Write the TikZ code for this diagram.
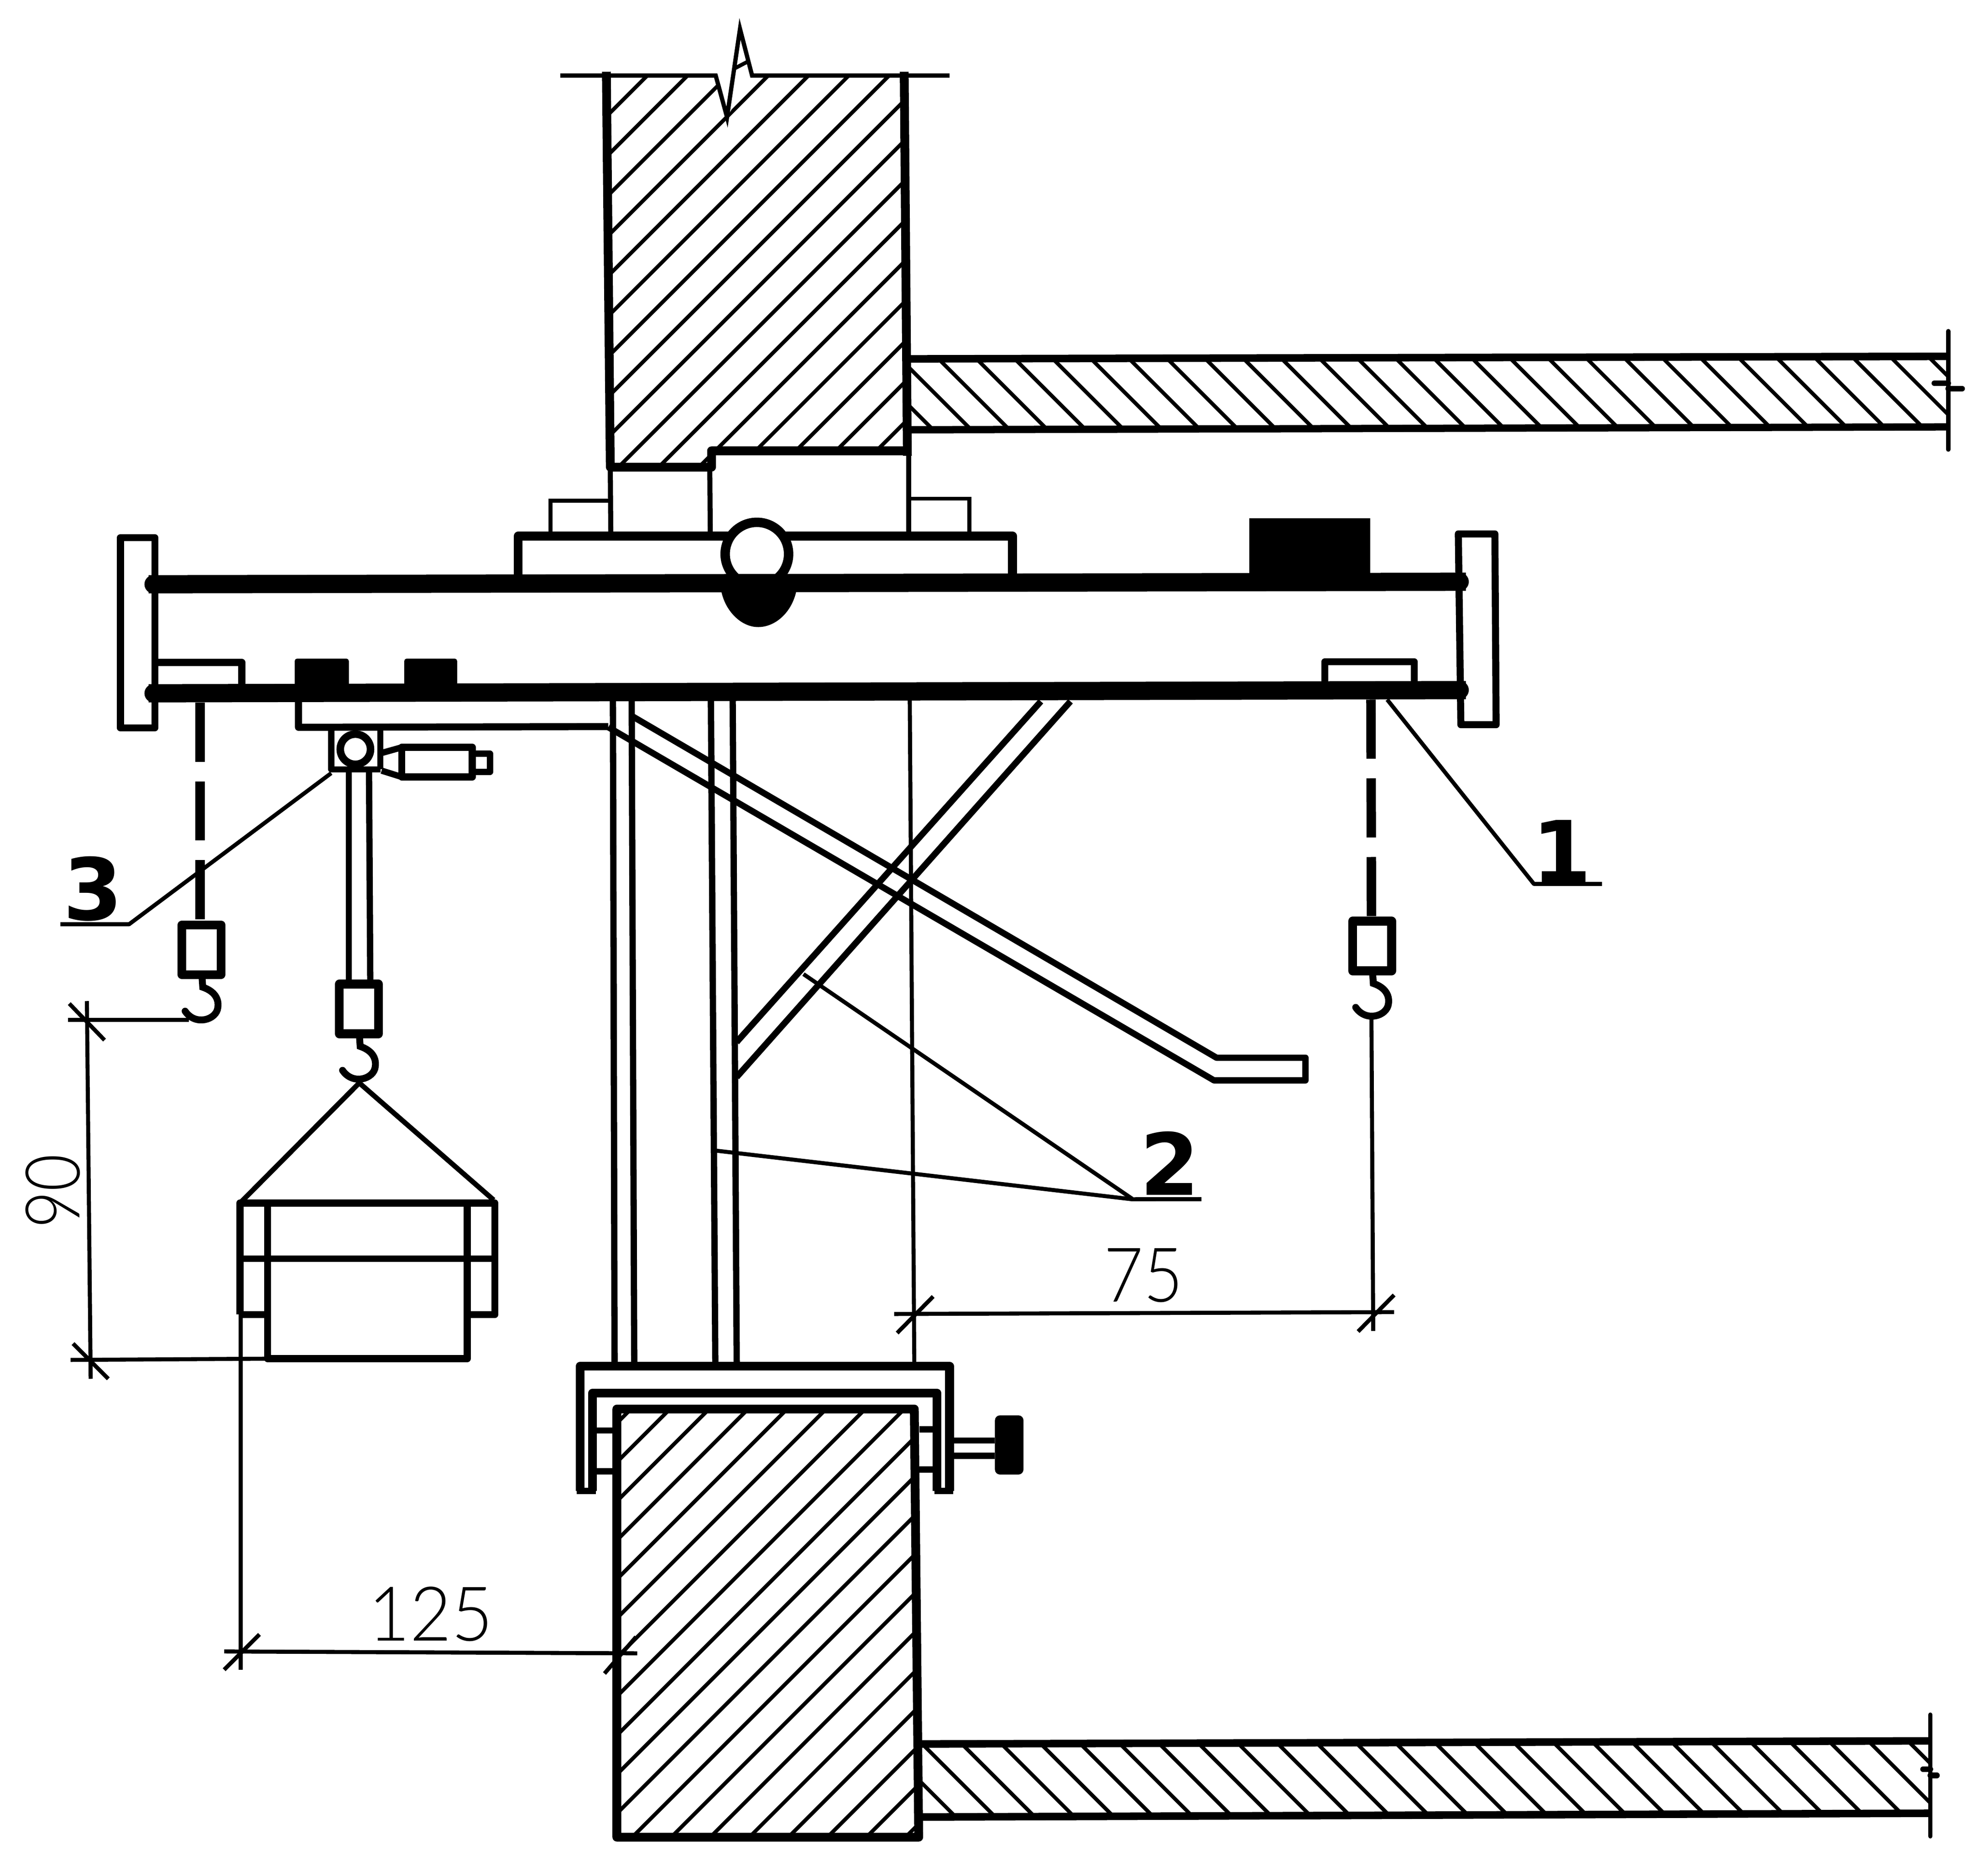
\documentclass[tikz,border=0pt]{standalone}
\usepackage{fontspec}
\newfontfamily\dimfont{Lato Light}
\newfontfamily\markfont{DejaVu Sans}
\tikzset{
  thinline/.style={black,line width=3.2pt},
  rodline/.style={black,line width=5pt,line join=round},
  plateline/.style={black,line width=5.6pt,line join=round},
  wallline/.style={black,line width=7pt,line join=round},
  beamline/.style={black,line width=14.5pt},
  hatchline/.style={black,line width=3pt},
  dashrod/.style={black,line width=7.5pt,dash pattern=on 47pt off 15.5pt},
  dimlabel/.style={inner sep=0pt,transform shape,font=\dimfont\fontsize{60}{60}\selectfont},
  marklabel/.style={inner sep=0pt,font=\markfont\bfseries\fontsize{68}{68}\selectfont},
  hoist/.pic={
    \draw [black,line width=7pt,line join=round] (-15.5,-42.5) rectangle (15.5,-3);
    \draw [black,line width=5.5pt,line cap=round] (0.5,0) -- (1,7) .. controls (10,10) and (14,16) .. (13,23) .. controls (12,33) and (-5,38) .. (-13,26);
  }
}

\begin{document}
\begin{tikzpicture}[x=1pt,y=-1pt]
\useasboundingbox (0,0) rectangle (1570.65,1489.5);
\begin{scope}
\clip (481.5,60) -- (568.3,60) -- (577.3,93) -- (597.2,60) -- (718,60) -- (720.5,358) -- (565,358) -- (565,371) -- (484.6,371) -- cycle;
\foreach \c in {542,574,...,1100} \draw [hatchline] (\c-50,50) -- (\c-400,400);
\end{scope}
\begin{scope}
\clip (722,285) -- (1547,283) -- (1547,339) -- (722,341) -- cycle;
\foreach \c in {1248,1217.7,...,350} \draw [hatchline] (\c+250,250) -- (\c+370,370);
\end{scope}
\begin{scope}
\clip (489.8,1119) -- (726,1119) -- (729.5,1459) -- (490,1459) -- cycle;
\foreach \c in {1620,1651,...,2200} \draw [hatchline] (\c-1100,1100) -- (\c-1480,1480);
\end{scope}
\begin{scope}
\clip (730,1385) -- (1533,1382) -- (1533,1440) -- (730,1443) -- cycle;
\foreach \c in {-56,-87.4,...,-720} \draw [hatchline] (\c+1370,1370) -- (\c+1450,1450);
\foreach \c in {-24.6,6.8,...,160} \draw [hatchline] (\c+1370,1370) -- (\c+1450,1450);
\end{scope}
\draw [black,line width=3.4pt] (445,60) -- (568.3,60) -- (577.3,93) -- (587.6,23) -- (597.2,60) -- (754,60);
\draw [black,line width=3pt] (583.4,54.3) -- (593.6,49);
\draw [wallline] (481.5,57) -- (484.6,371) -- (565,371) -- (565,358) -- (720.5,358);
\draw [wallline] (718,57) -- (720.5,362);
\draw [thinline,line width=4pt] (484.6,371) -- (485,425);
\draw [thinline,line width=4pt] (563.6,371) -- (564,425);
\draw [thinline,line width=4pt] (721.6,358) -- (721.6,425);
\draw [thinline] (437,425) -- (437,397.5) -- (485,397.5);
\draw [thinline] (721.6,396) -- (769.6,396) -- (769.6,425);
\draw [wallline] (411.5,458) -- (411.5,425.7) -- (804,425.7) -- (804,458);
\draw [black,fill=white,line width=7.5pt] (601,440) circle (25.2);
\fill [black] (572,465) .. controls (574,484) and (588,498) .. (602,498) .. controls (617,498) and (631,484) .. (633,465) -- cycle;
\draw [beamline] (118,464) -- (1164,462);
\draw [beamline] (118,550.6) -- (1164,548);
\fill [black] (122,464) circle (7.3);
\fill [black] (122,550.6) circle (7.3);
\fill [black] (1159,462) circle (7.3);
\fill [black] (1159,548) circle (7.3);
\draw [plateline] (95.6,427) rectangle (123,578);
\draw [plateline] (1158,424) -- (1187,424) -- (1188,575.5) -- (1160,575.5) -- cycle;
\draw [plateline] (123,526) -- (192,526) -- (192,545);
\draw [plateline] (1052,545) -- (1052,525.5) -- (1123,525.5) -- (1123,545);
\fill [black,rounded corners=2pt] (234,523) rectangle (277,548);
\fill [black,rounded corners=2pt] (321,523) rectangle (363,548);
\fill [black] (992,411.7) rectangle (1088,458);
\draw [plateline] (237,555) -- (237,577.6) -- (483,577);
\draw [rodline] (263,579) -- (263,611) -- (302,611);
\draw [rodline] (302,579) -- (302,611);
\draw [black,fill=white,line width=6pt] (282.2,595) circle (12);
\draw [rodline] (303,598) -- (319,593.5);
\draw [rodline] (303,612) -- (319,617);
\draw [plateline] (319,593.5) rectangle (375,617);
\draw [rodline] (375,598.5) -- (389,598.5) -- (389,613) -- (375,613);
\draw [rodline] (277,611) -- (277,778);
\draw [rodline] (293,611) -- (294,778);
\draw [dashrod] (159,558) -- (159,731);
\draw [dashrod] (1088.6,555.6) -- (1089,729);
\pic at (160,777) {hoist};
\pic at (285,824) {hoist};
\pic at (1089.5,774) {hoist};
\draw [black,line width=4pt] (191,955) -- (285.3,860) -- (392,953);
\draw [plateline] (190.5,1044) -- (190.5,955.4) -- (393,955.4) -- (393,1044) -- (371,1044);
\draw [plateline] (190.5,1044) -- (212.4,1044);
\draw [plateline] (212.4,955.4) -- (212.4,1079) -- (371,1079) -- (371,955.4);
\draw [plateline,line width=5pt] (190.5,999.5) -- (393,999.5);
\draw [rodline] (486.7,556) -- (488,1082);
\draw [rodline] (501.6,556) -- (503.6,1082);
\draw [rodline] (564.5,556) -- (568,1082);
\draw [rodline] (581.8,556) -- (585,1082);
\draw [rodline] (502.4,569) -- (966,840) -- (1036.6,840) -- (1036.6,858) -- (964,858) -- (483,577.5);
\draw [rodline] (584.9,827.6) -- (826.5,557);
\draw [rodline] (584.9,855.4) -- (850,557);
\draw [thinline] (722.4,556) -- (726,1082);
\draw [wallline] (460.6,1184) -- (460.6,1085) -- (754,1085) -- (754,1184);
\draw [wallline] (470.5,1184) -- (470.5,1106.4) -- (744,1106.4) -- (744,1184);
\draw [rodline] (458,1184) -- (473,1184);
\draw [rodline] (742,1184) -- (757,1184);
\draw [wallline] (489.8,1459) -- (489.8,1119) -- (726,1119) -- (729.5,1459) -- cycle;
\draw [rodline] (474,1136) -- (487,1136);
\draw [rodline] (474,1168.5) -- (487,1168.5);
\draw [rodline] (730,1135) -- (741,1135);
\draw [rodline] (730,1167) -- (741,1167);
\draw [rodline] (757,1144) -- (790,1144);
\draw [rodline] (757,1156) -- (790,1156);
\fill [black,rounded corners=4pt] (790,1124) rectangle (812.7,1171);
\draw [wallline,line width=6pt] (722,285) -- (1547,283);
\draw [wallline,line width=5.8pt] (722,341.3) -- (1547,339);
\draw [black,line width=3.5pt,line cap=round] (1547,263) -- (1547,357);
\draw [black,line width=4.5pt,line cap=round] (1536,304.3) -- (1547,304.3);
\draw [black,line width=4.5pt,line cap=round] (1547,308.6) -- (1558,308.6);
\draw [wallline,line width=6pt] (730,1385) -- (1533,1382.5);
\draw [wallline,line width=6pt] (730,1443) -- (1533,1440);
\draw [black,line width=3.5pt,line cap=round] (1532.8,1361.7) -- (1532.8,1458.3);
\draw [black,line width=4.5pt,line cap=round] (1527,1405) -- (1532.8,1405);
\draw [black,line width=4.5pt,line cap=round] (1532.8,1410) -- (1538,1410);
\draw [thinline] (54,810) -- (150,810);
\draw [thinline] (55,797) -- (83,826);
\draw [thinline] (69,795) -- (72,1095);
\draw [thinline] (56,1080) -- (212,1079);
\draw [thinline] (58,1067) -- (86,1095);
\draw [thinline] (191,1044) -- (191,1326);
\draw [thinline] (178,1311.5) -- (506,1313);
\draw [thinline] (178,1326) -- (206,1298);
\draw [thinline] (480,1329) -- (505,1300);
\draw [thinline] (710,1043.5) -- (1107,1042);
\draw [thinline] (712.4,1058.6) -- (741,1029.6);
\draw [thinline] (1078.4,1057.4) -- (1107,1028.4);
\draw [thinline] (1089,809) -- (1090.4,1057);
\node [dimlabel,xscale=0.9] (dimwidth) at (908,1013) {75};
\node [dimlabel,rotate=90,xscale=0.85] (dimdrop) at (42,946) {90};
\node [dimlabel,xscale=0.95] (dimreach) at (342,1282) {125};
\node [marklabel] (markone) at (1240,676) {1};
\node [marklabel] (marktwo) at (929,924) {2};
\node [marklabel] (markthree) at (74,706) {3};
\draw [thinline,line join=round] (263,614) -- (102.5,734) -- (48,734);
\draw [thinline,line join=round] (1101.5,555.6) -- (1218,702) -- (1272,702);
\draw [thinline] (638,773.6) -- (899,952);
\draw [thinline] (567,913.6) -- (899,952.4) -- (954,952.3);
\end{tikzpicture}
\end{document}
